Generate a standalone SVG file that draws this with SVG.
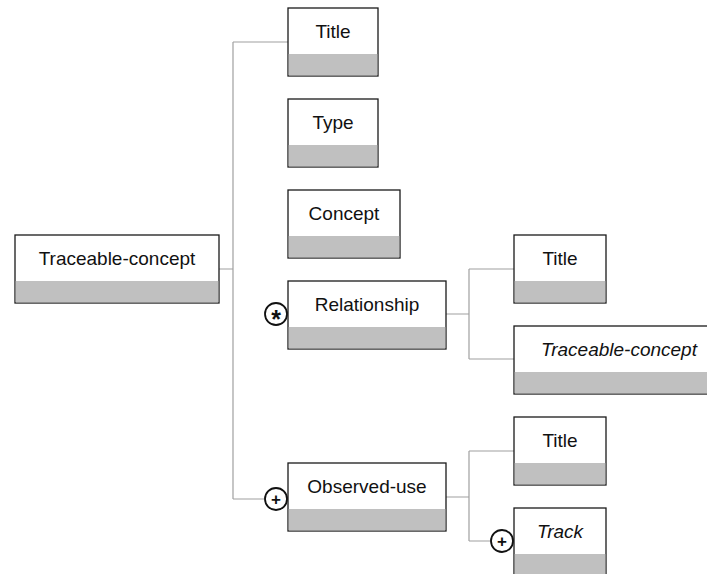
<svg xmlns="http://www.w3.org/2000/svg" width="707" height="574" viewBox="0 0 707 574">
<style>
.box{fill:#ffffff;stroke:#1a1a1a;stroke-width:1.3}
.band{fill:#c0c0c0;stroke:none}
.lbl{font-family:"Liberation Sans",Arial,sans-serif;font-size:19px;fill:#111;text-anchor:middle}
.it{font-style:italic}
.con{fill:none;stroke:#a0a0a0;stroke-width:1.2}
.circ{fill:#ffffff;stroke:#111;stroke-width:1.8}
.sym{font-family:"Liberation Sans",Arial,sans-serif;font-weight:bold;fill:#111;text-anchor:middle}
</style>
<g id="connectors">
<path class="con" d="M219,269 H233 M233,42 V499 M233,42 H288 M233,499 H265"/>
<path class="con" d="M446,314 H469 M469,269 V359 M469,269 H514 M469,359 H514"/>
<path class="con" d="M446,497 H469 M469,451 V541 M469,451 H514 M469,541 H491"/>
</g>
<g id="root">
<rect class="box" x="15" y="235" width="204" height="68"/>
<rect class="band" x="15.7" y="281" width="202.6" height="21.4"/>
<text class="lbl" x="117" y="265">Traceable-concept</text>
</g>
<g id="title">
<rect class="box" x="288" y="8" width="90" height="68"/>
<rect class="band" x="288.7" y="54" width="88.6" height="21.4"/>
<text class="lbl" x="333" y="38">Title</text>
</g>
<g id="type">
<rect class="box" x="288" y="99" width="90" height="68"/>
<rect class="band" x="288.7" y="145" width="88.6" height="21.4"/>
<text class="lbl" x="333" y="129">Type</text>
</g>
<g id="concept">
<rect class="box" x="288" y="190" width="112" height="68"/>
<rect class="band" x="288.7" y="236" width="110.6" height="21.4"/>
<text class="lbl" x="344" y="220">Concept</text>
</g>
<g id="relationship">
<rect class="box" x="288" y="281" width="158" height="68"/>
<rect class="band" x="288.7" y="327" width="156.6" height="21.4"/>
<text class="lbl" x="367" y="311">Relationship</text>
<circle class="circ" cx="276" cy="314" r="11"/>
<text class="sym" x="276" y="328" font-size="25">*</text>
</g>
<g id="observed-use">
<rect class="box" x="288" y="463" width="158" height="68"/>
<rect class="band" x="288.7" y="509" width="156.6" height="21.4"/>
<text class="lbl" x="367" y="493">Observed-use</text>
<circle class="circ" cx="276" cy="499" r="11"/>
<text class="sym" x="276" y="505" font-size="17">+</text>
</g>
<g id="rel-title">
<rect class="box" x="514" y="235" width="92" height="68"/>
<rect class="band" x="514.7" y="281" width="90.6" height="21.4"/>
<text class="lbl" x="560" y="265">Title</text>
</g>
<g id="rel-traceable-concept">
<rect class="box" x="514" y="326" width="210" height="68"/>
<rect class="band" x="514.7" y="372" width="208.6" height="21.4"/>
<text class="lbl it" x="619" y="356">Traceable-concept</text>
</g>
<g id="obs-title">
<rect class="box" x="514" y="417" width="92" height="68"/>
<rect class="band" x="514.7" y="463" width="90.6" height="21.4"/>
<text class="lbl" x="560" y="447">Title</text>
</g>
<g id="track">
<rect class="box" x="514" y="508" width="92" height="68"/>
<rect class="band" x="514.7" y="554" width="90.6" height="21.4"/>
<text class="lbl it" x="560" y="538">Track</text>
<circle class="circ" cx="502" cy="541" r="11"/>
<text class="sym" x="502" y="547" font-size="17">+</text>
</g>
</svg>
